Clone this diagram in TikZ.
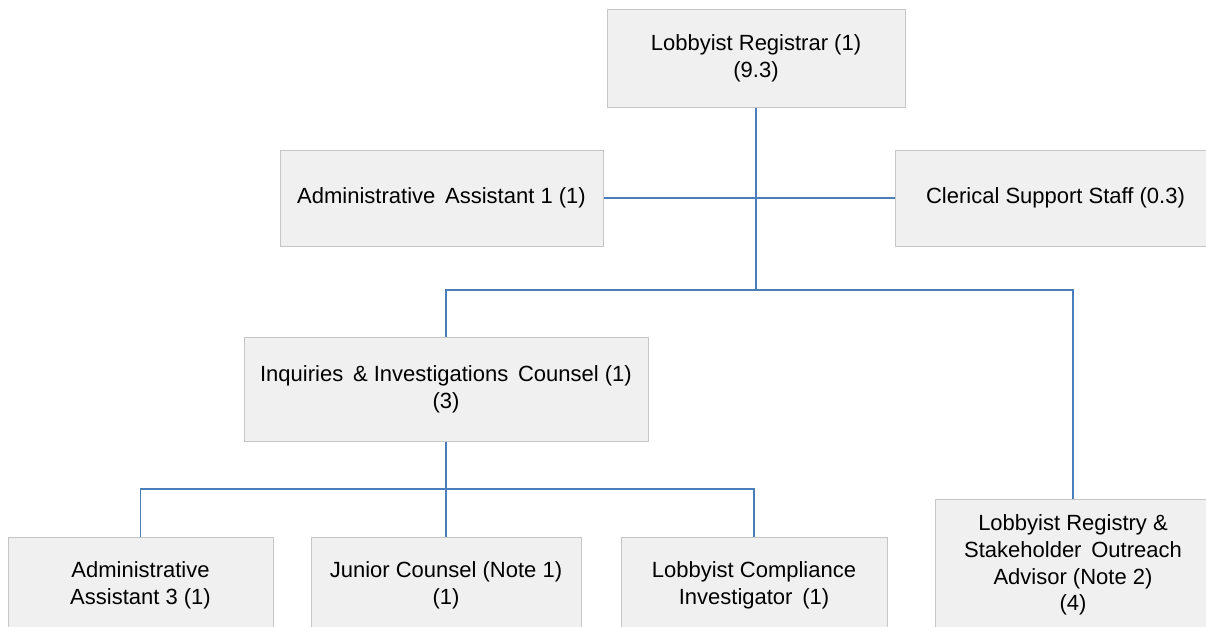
\documentclass[tikz,border=0pt]{standalone}
\usepackage{fontspec}
\setmainfont{Liberation Sans}
\definecolor{boxfill}{HTML}{F0F0F0}
\definecolor{boxline}{HTML}{C6C6C6}
\definecolor{connblue}{HTML}{4A7EBB}
\tikzset{
  orgbox/.style={draw=boxline, line width=1pt, fill=boxfill, rectangle, align=center,
    inner sep=0pt, font=\fontsize{22}{26.7}\selectfont},
  conn/.style={draw=connblue, line width=1.3pt}
}
\begin{document}
\begin{tikzpicture}[x=1pt,y=-1pt]
\clip (0,0) rectangle (1206,626);
\fill[white] (0,0) rectangle (1206,626);
\node[orgbox, minimum width=298, minimum height=97] (top) at (756,58.5) {Lobbyist Registrar (1)\\(9.3)};
\node[orgbox, minimum width=323, minimum height=96] (aa1) at (441.5,198) {Administrative\ \,Assistant 1 (1)};
\node[orgbox, minimum width=321, minimum height=96] (css) at (1055.5,198) {Clerical Support Staff (0.3)};
\node[orgbox, minimum width=404, minimum height=104] (inq) at (446,389) {Inquiries\ \,\&\ Investigations\ \,Counsel (1)\\(3)};
\node[orgbox, minimum width=265, minimum height=97] (aa3) at (140.5,585.5) {Administrative\\Assistant 3 (1)};
\node[orgbox, minimum width=270, minimum height=97] (jc) at (446,585.5) {Junior Counsel (Note 1)\\(1)};
\node[orgbox, minimum width=266, minimum height=97] (lci) at (754,585.5) {Lobbyist Compliance\\Investigator\ \,(1)};
\node[orgbox, minimum width=276, minimum height=132] (lrs) at (1073,565) {Lobbyist Registry \&\\Stakeholder\ \,Outreach\\Advisor (Note 2)\\(4)};
\coordinate (bus1) at (755,290);
\coordinate (bus2) at (446,489);
\draw[conn] (aa1.east) -- (css.west);
\draw[conn] (top.south) -- (top.south |- bus1);
\draw[conn] (inq.north) -- (inq.north |- bus1) -- (lrs.north |- bus1) -- (lrs.north);
\draw[conn] (inq.south) -- (inq.south |- bus2);
\draw[conn] (aa3.north) -- (aa3.north |- bus2) -- (lci.north |- bus2) -- (lci.north);
\draw[conn] (jc.north) -- (jc.north |- bus2);
\end{tikzpicture}
\end{document}
